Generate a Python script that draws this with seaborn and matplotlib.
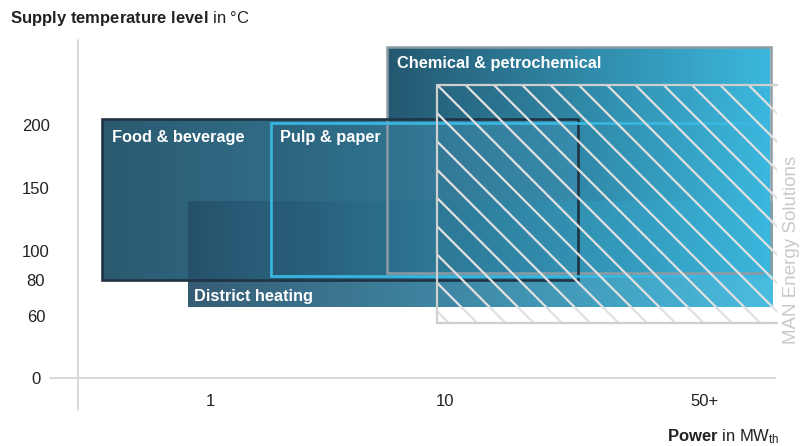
import numpy as np
import matplotlib
matplotlib.use("Agg")
import matplotlib.pyplot as plt
import seaborn as sns
from matplotlib.patches import Polygon
from matplotlib.lines import Line2D
from matplotlib.transforms import IdentityTransform

# ---- data -------------------------------------------------------------
sectors = ["Chemical & petrochemical", "Food & beverage", "District heating", "Pulp & paper"]
# power range on the schematic power axis (1 -> "1", 2 -> "10", 3.106 -> "50+")
power_min = [1.753, 0.540, 0.906, 1.260]
power_max = [3.387, 2.566, 3.396, 3.362]
# supply temperature range in degC
temp_min = [85, 80, 65, 83]
temp_max = [262, 205, 140, 202]

# range covered by MAN heat pumps (hatched)
man_power = [1.966, 3.413]
man_temp = [53, 232]

x_ticks = [1.0, 2.0, 3.106]
x_labels = ["1", "10", "50+"]
y_ticks = [0, 60, 80, 100, 150, 200]
y_labels = ["0", "60", "80", "100", "150", "200"]

# ---- styling ----------------------------------------------------------
fill_colors = {
    "Chemical & petrochemical": ("#245870", "#3cb8de", 1.0),
    "Food & beverage": ("#2b5a70", "#3a8cad", 1.0),
    "District heating": ("#27506a", "#3bb8de", 0.93),
    "Pulp & paper": ("#1e4258", "#3bb6dc", 0.2),
}
edge_styles = {
    "Chemical & petrochemical": ("#8d9ba3", 1.8),
    "Food & beverage": ("#1f3344", 1.9),
    "Pulp & paper": ("#3ab8e2", 1.9),
}
label_offsets = {  # points, from the top-left corner (bottom-left for district)
    "Chemical & petrochemical": (7.2, -12.2, "top"),
    "District heating": (4.3, 7.9, "bottom"),
    "Food & beverage": (7.2, -13.7, "top"),
    "Pulp & paper": (6.5, -11.0, "top"),
}

sns.set_theme(style="white")
plt.rcParams["font.family"] = ["Liberation Sans", "DejaVu Sans"]
plt.rcParams["mathtext.fontset"] = "custom"
plt.rcParams["mathtext.rm"] = "Liberation Sans"
plt.rcParams["mathtext.bf"] = "Liberation Sans:bold"
plt.rcParams["mathtext.it"] = "Liberation Sans:italic"

W, H = 802, 446
fig = plt.figure(figsize=(W / 100, H / 100), dpi=100)
L, R, T, B = 50, 780, 40, 390
ax = fig.add_axes([L / W, 1 - B / H, (R - L) / W, (B - T) / H])

# schematic (piecewise linear) temperature scale
temp_knots = [-100, 0, 60, 80, 100, 150, 200, 400]
pos_knots = [-103, 0, 62, 98, 127, 190, 253, 505]
fwd = lambda t: np.interp(t, temp_knots, pos_knots)
inv = lambda p: np.interp(p, pos_knots, temp_knots)
ax.set_yscale("function", functions=(fwd, inv))
XLIM, YLIM = (0.3191, 3.4255), (-11.65, 267.5)


def box(x0, x1, y0, y1, **kw):
    return Polygon([(x0, y0), (x1, y0), (x1, y1), (x0, y1)], closed=True, **kw)


grad = np.linspace(0, 1, 256)[None, :]
for i, name in enumerate(sectors):
    x0, x1 = power_min[i], power_max[i]
    y0, y1 = temp_min[i], temp_max[i]
    c0, c1, a = fill_colors[name]
    cmap = sns.blend_palette([c0, c1], as_cmap=True)
    clip = box(x0, x1, y0, y1, facecolor="none", edgecolor="none")
    ax.add_patch(clip)
    im = ax.imshow(grad, cmap=cmap, extent=(x0, x1, y0, y1), aspect="auto",
                   alpha=a, interpolation="bilinear", zorder=1 + i)
    im.set_clip_path(clip)
    if name in edge_styles:
        ec, lw = edge_styles[name]
        ax.add_patch(box(x0, x1, y0, y1, facecolor="none", edgecolor=ec, lw=lw,
                         joinstyle="miter", zorder=6))
    dx, dy, anchor = label_offsets[name]
    ax.annotate(name, xy=(x0, y1 if anchor == "top" else y0),
                xytext=(dx, dy), textcoords="offset points",
                ha="left", va="center", color="white", fontsize=11.8,
                fontweight="bold", zorder=9)

ax.set_xlim(*XLIM)
ax.set_ylim(*YLIM)

# hatched MAN range: border on left, top and bottom, diagonal lines inside
hx0, hx1 = man_power
hy0, hy1 = man_temp
hatch_clip = box(hx0, hx1, hy0, hy1, facecolor="none", edgecolor="none", zorder=7)
ax.add_patch(hatch_clip)
fig.canvas.draw()
cx, cy = ax.transData.transform((hx0, hy1))
step = 28.3
for k in range(-20, 20):
    xs = cx + k * step
    ln = Line2D([xs - 400, xs + 400], [cy + 400, cy - 400], transform=IdentityTransform(),
                color="#e0e0e0", lw=1.6, zorder=7)
    ax.add_line(ln)
    ln.set_clip_path(hatch_clip)
ax.plot([hx1, hx0, hx0, hx1], [hy1, hy1, hy0, hy0], color="#cfcfcf", lw=1.6,
        zorder=8, solid_joinstyle="miter", clip_on=False)

# axis lines
for s in ax.spines.values():
    s.set_visible(False)
ax.plot([0.4383, 0.4383], [-31, 267.5], color="#d4d4d4", lw=1.3, clip_on=False, zorder=0)
ax.plot([0.3191, 3.404], [0, 0], color="#d4d4d4", lw=1.3, clip_on=False, zorder=0)

ax.set_xticks(x_ticks)
ax.set_xticklabels(x_labels)
ax.set_yticks(y_ticks)
ax.set_yticklabels(y_labels)
ax.tick_params(axis="both", length=0, labelsize=12, labelcolor="#222222")
ax.tick_params(axis="x", pad=3.0)
ax.tick_params(axis="y", pad=10.1)
for lab in ax.get_yticklabels():
    lab.set_horizontalalignment("center")
ax.grid(False)

fig.text(10 / W, 1 - 18 / H, r"$\mathbf{Supply\ temperature\ level}$ in °C",
         ha="left", va="center", fontsize=12, color="#222222")
fig.text(780 / W, 1 - 437 / H, r"$\mathbf{Power}$ in MW$_{\mathrm{th}}$",
         ha="right", va="center", fontsize=12, color="#222222")
fig.text(792 / W, 1 - 250 / H, "MAN Energy Solutions", rotation=90,
         ha="center", va="center", fontsize=13.5, color="#c9c9c9")

fig.savefig("out.png", dpi=100)
